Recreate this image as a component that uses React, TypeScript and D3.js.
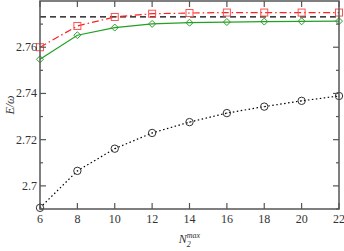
import React from "react";
import * as d3 from "d3";

// N2max values
const nmax = [6, 8, 10, 12, 14, 16, 18, 20, 22];
// red squares (dash-dot)
const redSquares = [2.7600, 2.7692, 2.7731, 2.7745, 2.7748, 2.7750, 2.7750, 2.7750, 2.7750];
// green diamonds (solid)
const greenDiamonds = [2.7548, 2.7652, 2.7685, 2.7701, 2.7706, 2.7709, 2.7711, 2.7712, 2.7713];
// black circles (dotted)
const blackCircles = [2.6905, 2.7065, 2.7161, 2.7229, 2.7276, 2.7315, 2.7343, 2.7368, 2.7389];
// black dashed reference level
const referenceLevel = 2.7731;

const xTicks = [6, 8, 10, 12, 14, 16, 18, 20, 22];
const yTicks = [2.7, 2.72, 2.74, 2.76];
const yMinorTicks = [2.69, 2.71, 2.73, 2.75, 2.77];

export default function App() {
  const width = 344;
  const height = 251;
  const margin = { top: 1, right: 5, bottom: 42, left: 40 };
  const axisColor = "#555";
  const textColor = "#333";

  const x = d3.scaleLinear().domain([6, 22]).range([margin.left, width - margin.right]);
  const y = d3.scaleLinear().domain([2.69, 2.78]).range([height - margin.bottom, margin.top]);

  const x0 = x(6), x1 = x(22), y0 = y(2.69), y1 = y(2.78);

  const line = d3.line<number>()
    .x((_, i) => x(nmax[i]))
    .y(d => y(d));

  const majorLen = 6;
  const minorLen = 3;

  return (
    <svg width={width} height={height} style={{ position: "absolute", left: 0, top: 0 }}>
      <rect width={width} height={height} fill="#fff" />

      {/* reference level */}
      <line x1={x0} x2={x1} y1={y(referenceLevel)} y2={y(referenceLevel)}
        stroke="#000" strokeWidth={1.2} strokeDasharray="6,4" />

      {/* series lines */}
      <path d={line(blackCircles) || ""} fill="none" stroke="#000" strokeWidth={1.2} strokeDasharray="1.5,2.5" />
      <path d={line(greenDiamonds) || ""} fill="none" stroke="#22a022" strokeWidth={1.2} />
      <path d={line(redSquares) || ""} fill="none" stroke="#ff2020" strokeWidth={1.2} strokeDasharray="7,3,1.5,3" />

      {/* markers */}
      {blackCircles.map((v, i) => (
        <g key={`c${i}`}>
          <circle cx={x(nmax[i])} cy={y(v)} r={3.7} fill="none" stroke="#333" strokeWidth={1} />
          <circle cx={x(nmax[i])} cy={y(v)} r={0.6} fill="#333" />
        </g>
      ))}
      {greenDiamonds.map((v, i) => {
        const cx = x(nmax[i]), cy = y(v), r = 3.5;
        return (
          <path key={`d${i}`} d={`M${cx},${cy - r}L${cx + r},${cy}L${cx},${cy + r}L${cx - r},${cy}Z`}
            fill="none" stroke="#2aa02a" strokeWidth={1} />
        );
      })}
      {redSquares.map((v, i) => (
        <rect key={`s${i}`} x={x(nmax[i]) - 3.5} y={y(v) - 3.5} width={7} height={7}
          fill="none" stroke="#ff5050" strokeWidth={1} />
      ))}

      {/* frame */}
      <rect x={x0} y={y1} width={x1 - x0} height={y0 - y1} fill="none" stroke={axisColor} strokeWidth={1.5} />

      {/* x ticks */}
      {xTicks.map(t => (
        <g key={`xt${t}`}>
          <line x1={x(t)} x2={x(t)} y1={y0} y2={y0 - majorLen} stroke={axisColor} strokeWidth={1.2} />
          <line x1={x(t)} x2={x(t)} y1={y1} y2={y1 + majorLen} stroke={axisColor} strokeWidth={1.2} />
          <text x={x(t)} y={y0 + 14} textAnchor="middle" fontFamily="'Liberation Serif', serif" fontSize={12} fill={textColor}>
            {t}
          </text>
        </g>
      ))}

      {/* y ticks */}
      {yTicks.map(t => (
        <g key={`yt${t}`}>
          <line x1={x0} x2={x0 + majorLen} y1={y(t)} y2={y(t)} stroke={axisColor} strokeWidth={1.2} />
          <line x1={x1} x2={x1 - majorLen} y1={y(t)} y2={y(t)} stroke={axisColor} strokeWidth={1.2} />
          <text x={x0 - 3} y={y(t) + 4} textAnchor="end" fontFamily="'Liberation Serif', serif" fontSize={12} fill={textColor}>
            {d3.format("")(+t.toFixed(2))}
          </text>
        </g>
      ))}
      {yMinorTicks.map(t => (
        <g key={`ym${t}`}>
          <line x1={x0} x2={x0 + minorLen} y1={y(t)} y2={y(t)} stroke={axisColor} strokeWidth={1.2} />
          <line x1={x1} x2={x1 - minorLen} y1={y(t)} y2={y(t)} stroke={axisColor} strokeWidth={1.2} />
        </g>
      ))}

      {/* axis labels */}
      <text transform={`translate(14,${(y0 + y1) / 2}) rotate(-90)`} textAnchor="middle"
        fontFamily="'Liberation Serif', serif" fontStyle="italic" fontSize={12} fill={textColor}>
        E/ω
      </text>
      <text x={(x0 + x1) / 2} y={height - 8} textAnchor="middle"
        fontFamily="'Liberation Serif', serif" fontStyle="italic" fontSize={12} fill={textColor}>
        N
        <tspan fontSize={8} dy={4}>2</tspan>
        <tspan fontSize={8} dx={-4} dy={-9}>max</tspan>
      </text>
    </svg>
  );
}
